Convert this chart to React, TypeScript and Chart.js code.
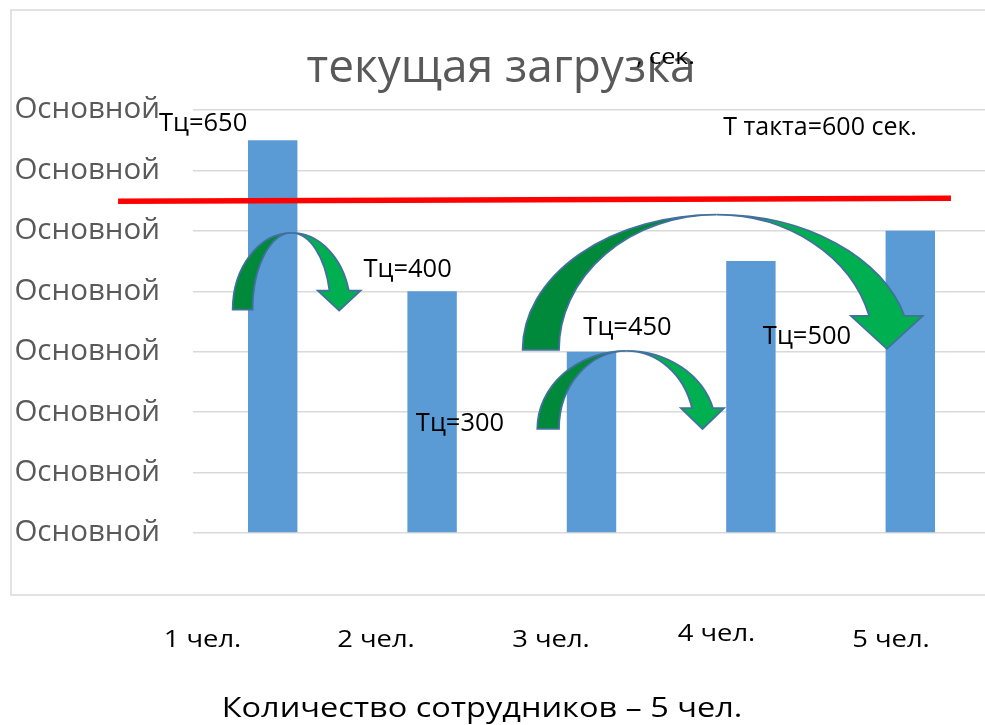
import React, { useEffect, useRef } from "react";
import { Chart, registerables } from "chart.js";

Chart.register(...registerables);

// ---------- data ----------
const categories = ["1 чел.", "2 чел.", "3 чел.", "4 чел.", "5 чел."];
const cycleTimes = [650, 400, 300, 450, 500];
const yMin = 0;
const yMax = 700;
const yStep = 100;
const yTickLabel = "Основной";
const cycleLabels = ["Тц=650", "Тц=400", "Тц=300", "Тц=450", "Тц=500"];
// takt-time red line, as drawn in the picture (x in category index units, y in seconds)
const taktLineX = [-0.97, 4.255];
const taktLineY = [549, 554];
const taktLabel = "Т такта=600 сек.";
const chartTitle = "текущая загрузка";
const titleUnit = ", сек.";
const axisTitle = "Количество сотрудников – 5 чел.";

// ---------- annotation placement (data units: category index, seconds) ----------
const cycleLabelAnchors = [
  [-0.437, 666],
  [0.846, 424],
  [1.175, 168],
  [2.226, 328],
  [3.352, 313],
];
const taktLabelAnchor = [3.434, 659];

// curved arrows (data units)
const arrows = [
  { cx: 0.119, base: 369.5, top: 496.5, rxOuter: 0.37, rxInner: 0.245, headBase: 401, tip: 368, headHalf: 0.134 },
  { cx: 2.785, base: 303.2, top: 526.8, rxOuter: 1.217, rxInner: 0.989, headBase: 359.2, tip: 304.8, headHalf: 0.225 },
  { cx: 2.221, base: 172.3, top: 301.5, rxOuter: 0.561, rxInner: 0.425, headBase: 206.6, tip: 172.3, headHalf: 0.135 },
];

// ---------- page layout (pixels) ----------
const LAYOUT = {
  canvasW: 1000,
  canvasH: 725,
  frame: { x: 11, y: 10, w: 1000, h: 585 },
  title: { x: 501, y: 82 },
  unit: { x: 636, y: 64 },
  catLabelX: [202.5, 376, 551, 716.5, 891],
  catLabelY: [647, 647, 647, 641, 647],
  axisTitle: { x: 482, y: 717 },
};

const FONT = "'Open Sans', 'DejaVu Sans', sans-serif";

function drawText(
  ctx: CanvasRenderingContext2D,
  text: string,
  x: number,
  y: number,
  size: number,
  color: string,
  align: CanvasTextAlign = "center",
  scaleX = 1
) {
  ctx.save();
  ctx.font = `${size}px ${FONT}`;
  ctx.fillStyle = color;
  ctx.textAlign = align;
  ctx.textBaseline = "alphabetic";
  ctx.translate(x, y);
  ctx.scale(scaleX, 1);
  ctx.fillText(text, 0, 0);
  ctx.restore();
}

const decorPlugin = {
  id: "decor",
  beforeDraw(chart: any) {
    const ctx = chart.ctx as CanvasRenderingContext2D;
    ctx.save();
    ctx.fillStyle = "#ffffff";
    ctx.fillRect(0, 0, chart.width, chart.height);
    ctx.strokeStyle = "#d9d9d9";
    ctx.lineWidth = 1.5;
    const f = LAYOUT.frame;
    ctx.strokeRect(f.x, f.y, f.w, f.h);
    ctx.restore();
  },
  afterDatasetsDraw(chart: any) {
    const ctx = chart.ctx as CanvasRenderingContext2D;
    const xs = chart.scales.x;
    const ys = chart.scales.y;
    const X = (v: number) => xs.getPixelForValue(v);
    const Y = (v: number) => ys.getPixelForValue(v);

    // takt line
    ctx.save();
    ctx.strokeStyle = "#FF0000";
    ctx.lineWidth = 5.3;
    ctx.beginPath();
    taktLineX.forEach((x, i) => {
      const px = X(x);
      const py = Y(taktLineY[i]);
      if (i === 0) ctx.moveTo(px, py);
      else ctx.lineTo(px, py);
    });
    ctx.stroke();
    ctx.restore();

    // arrows
    for (const a of arrows) {
      const cx = X(a.cx);
      const yb = Y(a.base);
      const top = Y(a.top);
      const ry = yb - top;
      const rxo = X(a.cx + a.rxOuter) - cx;
      const rxi = X(a.cx + a.rxInner) - cx;
      const hb = Y(a.headBase);
      const tip = Y(a.tip);
      const hw = X(a.cx + a.headHalf) - cx;
      const tEnd = Math.asin((hb - yb) / ry);
      ctx.save();
      ctx.lineWidth = 1.8;
      ctx.strokeStyle = "#41719C";
      ctx.lineJoin = "miter";
      // dark back part
      ctx.beginPath();
      ctx.ellipse(cx, yb, rxo, ry, 0, Math.PI, 1.5 * Math.PI, false);
      ctx.ellipse(cx, yb, rxi, ry, 0, 1.5 * Math.PI, Math.PI, true);
      ctx.closePath();
      ctx.fillStyle = "#00883B";
      ctx.fill();
      ctx.stroke();
      // light front part with head
      const ox = cx + rxo * Math.cos(tEnd);
      const ix = cx + rxi * Math.cos(tEnd);
      const hc = (ox + ix) / 2;
      ctx.beginPath();
      ctx.ellipse(cx, yb, rxo, ry, 0, 1.5 * Math.PI, 2 * Math.PI + tEnd, false);
      ctx.lineTo(hc + hw, hb);
      ctx.lineTo(hc, tip);
      ctx.lineTo(hc - hw, hb);
      ctx.lineTo(ix, hb);
      ctx.ellipse(cx, yb, rxi, ry, 0, 2 * Math.PI + tEnd, 1.5 * Math.PI, true);
      ctx.closePath();
      ctx.fillStyle = "#00B050";
      ctx.fill();
      ctx.stroke();
      ctx.restore();
    }

    // in-plot labels
    cycleLabels.forEach((t, i) => {
      const [ix, iv] = cycleLabelAnchors[i];
      drawText(ctx, t, X(ix), Y(iv), 25.5, "#000000");
    });
    drawText(ctx, taktLabel, X(taktLabelAnchor[0]), Y(taktLabelAnchor[1]), 25, "#000000");

    // title and other texts
    drawText(ctx, chartTitle, LAYOUT.title.x, LAYOUT.title.y, 46, "#595959");
    drawText(ctx, titleUnit, LAYOUT.unit.x, LAYOUT.unit.y, 21, "#000000", "left", 1.2);
    categories.forEach((c, i) => {
      drawText(ctx, c, LAYOUT.catLabelX[i], LAYOUT.catLabelY[i], 23, "#000000", "center", 1.19);
    });
    drawText(ctx, axisTitle, LAYOUT.axisTitle.x, LAYOUT.axisTitle.y, 28, "#000000", "center", 1.16);
  },
};

export default function App() {
  const ref = useRef<HTMLCanvasElement | null>(null);
  useEffect(() => {
    if (!ref.current) return;
    const chart = new Chart(ref.current, {
      type: "bar",
      data: {
        labels: categories,
        datasets: [
          {
            label: "Тц",
            data: cycleTimes,
            backgroundColor: "#5B9BD5",
            barPercentage: 0.31,
            categoryPercentage: 1,
          },
        ],
      },
      options: {
        responsive: false,
        animation: false,
        devicePixelRatio: 1,
        layout: { padding: { left: 15, right: 10, top: 110, bottom: 192 } },
        plugins: {
          legend: { display: false },
          tooltip: { enabled: false },
          title: { display: false },
        },
        scales: {
          x: { type: "category", display: false, offset: true },
          y: {
            min: yMin,
            max: yMax,
            ticks: {
              stepSize: yStep,
              callback: () => yTickLabel,
              font: { family: "Open Sans", size: 29.5 },
              color: "#595959",
              padding: 33,
            },
            grid: { color: "#d9d9d9", lineWidth: 1.5, drawTicks: false },
            border: { display: false },
            afterFit: (s: any) => {
              s.width = 178;
            },
          },
        },
      },
      plugins: [decorPlugin],
    });
    return () => chart.destroy();
  }, []);
  return (
    <div
      style={{
        position: "absolute",
        left: 0,
        top: 0,
        width: 985,
        height: 725,
        overflow: "hidden",
        background: "#fff",
      }}
    >
      <canvas
        ref={ref}
        width={LAYOUT.canvasW}
        height={LAYOUT.canvasH}
        style={{ width: LAYOUT.canvasW, height: LAYOUT.canvasH, display: "block" }}
      />
    </div>
  );
}
